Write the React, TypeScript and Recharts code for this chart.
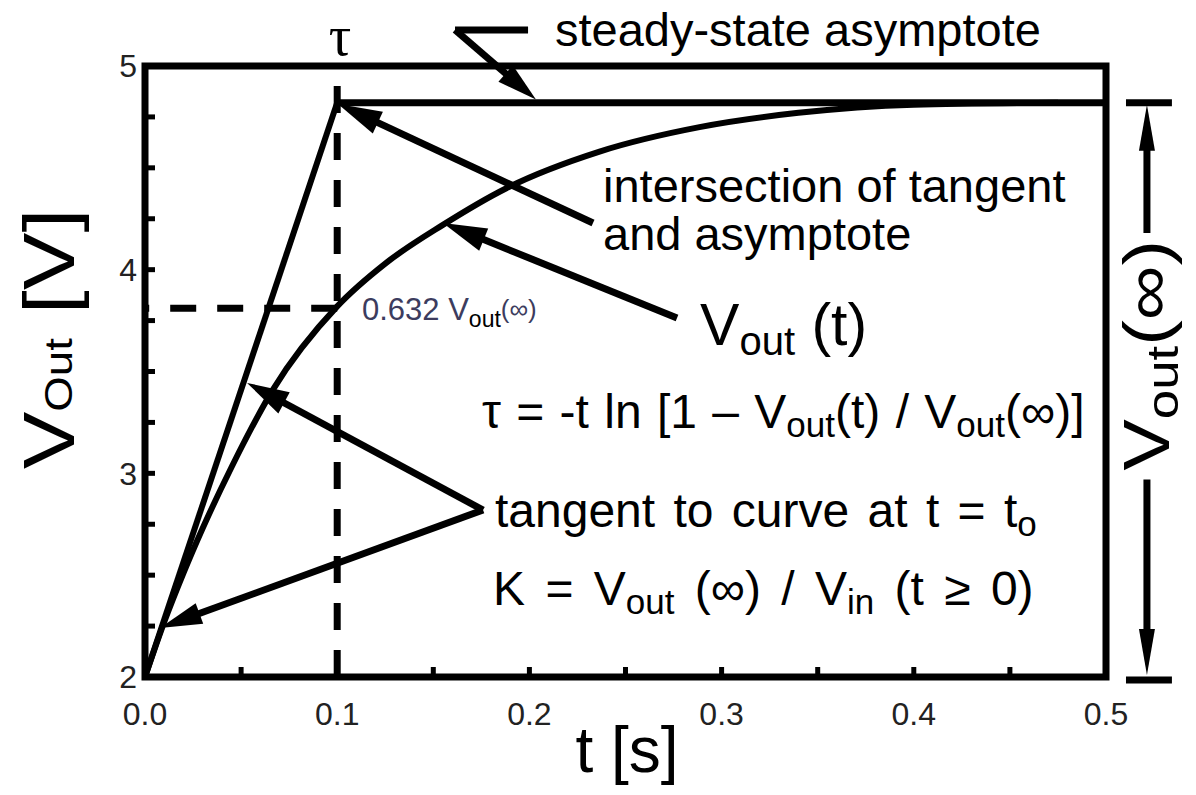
import React from 'react';
import {
  LineChart,
  Line,
  XAxis,
  YAxis,
  ReferenceArea,
  ReferenceLine,
  ReferenceDot,
} from 'recharts';

const SANS = '"Liberation Sans", Arial, Helvetica, sans-serif';
const SERIF = '"Liberation Serif", "DejaVu Serif", serif';
const INK = '#000';

// step response V_out(t)
const curveT = [0, 0.01, 0.02, 0.03, 0.045, 0.0665, 0.1, 0.125, 0.155, 0.188, 0.2365, 0.2885, 0.34, 0.4, 0.475];
const curveV = [2.0, 2.27, 2.51, 2.73, 3.03, 3.41, 3.82, 4.03, 4.22, 4.4, 4.58, 4.7, 4.77, 4.81, 4.82];

// tangent at t = 0 and the steady-state asymptote
const tangentT = [0, 0.1];
const tangentV = [2.0, 4.82];
const asymptoteT = [0.1, 0.5];
const asymptoteV = [4.82, 4.82];

// time constant and the 63.2 % level
const tauT = 0.1;
const level632 = 3.81;

const xTicks = [0, 0.05, 0.1, 0.15, 0.2, 0.25, 0.3, 0.35, 0.4, 0.45, 0.5];
const yTicks = [2, 2.25, 2.5, 2.75, 3, 3.25, 3.5, 3.75, 4, 4.25, 4.5, 4.75, 5];

const rows = (ts: number[], vs: number[]) => ts.map((t, i) => ({ t, v: vs[i] }));
const curveData = rows(curveT, curveV);
const tangentData = rows(tangentT, tangentV);
const asymptoteData = rows(asymptoteT, asymptoteV);

type Pt = [number, number];

// pointer arrows, [t, V] from tail to head
const arrows: { from: Pt; to: Pt; len: number; half: number }[] = [
  { from: [0.1613, 5.177], to: [0.2034, 4.835], len: 40, half: 11 },
  { from: [0.2331, 4.229], to: [0.1004, 4.813], len: 44, half: 12 },
  { from: [0.2768, 3.763], to: [0.155, 4.229], len: 44, half: 12 },
  { from: [0.1759, 2.82], to: [0.0531, 3.444], len: 42, half: 12 },
  { from: [0.1759, 2.82], to: [0.0078, 2.241], len: 42, half: 11 },
  { from: [0.5213, 4.18], to: [0.5213, 4.81], len: 46, half: 8 },
  { from: [0.5213, 2.97], to: [0.5213, 2.01], len: 46, half: 8 },
];

// plain bars: top of the steady-state pointer and the V_out(inf) bracket ends
const bars: { from: Pt; to: Pt }[] = [
  { from: [0.1993, 5.177], to: [0.1613, 5.177] },
  { from: [0.5104, 4.82], to: [0.5343, 4.82] },
  { from: [0.5104, 1.985], to: [0.5343, 1.985] },
];

const arrowShape = (len: number, half: number) => (p: any) => {
  const { x1, y1, x2, y2 } = p;
  if (![x1, y1, x2, y2].every((n) => Number.isFinite(n))) return <g />;
  const d = Math.hypot(x2 - x1, y2 - y1) || 1;
  const ux = (x2 - x1) / d;
  const uy = (y2 - y1) / d;
  const bx = x2 - ux * len;
  const by = y2 - uy * len;
  const head = `${x2},${y2} ${bx - uy * half},${by + ux * half} ${bx + uy * half},${by - ux * half}`;
  return (
    <g>
      <line x1={x1} y1={y1} x2={bx + ux * 6} y2={by + uy * 6} stroke={INK} strokeWidth={7} />
      <polygon points={head} fill={INK} />
    </g>
  );
};

const barShape = (p: any) => (
  <line x1={p.x1} y1={p.y1} x2={p.x2} y2={p.y2} stroke={INK} strokeWidth={7} />
);

const sub = (s: string, size: number, drop: number) => (
  <tspan fontSize={size} dy={drop}>
    {s}
  </tspan>
);

// vertical labels are drawn a little stretched along their length
const rotated = (x: number, y: number) => `translate(${x} ${y}) rotate(-90) scale(1.2 1)`;

// text annotations anchored in data units
const notes: { t: number; v: number; draw: (x: number, y: number) => React.ReactElement }[] = [
  {
    t: 0.2133,
    v: 5.098,
    draw: (x, y) => (
      <text x={x} y={y} fontSize={47} fontFamily={SANS} fill={INK}>
        steady-state asymptote
      </text>
    ),
  },
  {
    t: 0.1015,
    v: 5.054,
    draw: (x, y) => (
      <text x={x} y={y} fontSize={56} fontFamily={SERIF} fill={INK} textAnchor="middle">
        τ
      </text>
    ),
  },
  {
    t: 0.2383,
    v: 4.332,
    draw: (x, y) => (
      <text x={x} y={y} fontSize={47} fontFamily={SANS} fill={INK}>
        <tspan x={x}>intersection of tangent</tspan>
        <tspan x={x} dy={48}>
          and asymptote
        </tspan>
      </text>
    ),
  },
  {
    t: 0.2888,
    v: 3.63,
    draw: (x, y) => (
      <text x={x} y={y} fontSize={59} fontFamily={SANS} fill={INK}>
        V{sub('out', 40, 10)}
        <tspan dy={-10}> (t)</tspan>
      </text>
    ),
  },
  {
    t: 0.1753,
    v: 3.223,
    draw: (x, y) => (
      <text x={x} y={y} fontSize={48} fontFamily={SANS} fill={INK} wordSpacing={2}>
        τ = -t ln [1 – V{sub('out', 35, 9)}
        <tspan dy={-9}>(t) / V</tspan>
        {sub('out', 35, 9)}
        <tspan dy={-9}>(∞)]</tspan>
      </text>
    ),
  },
  {
    t: 0.1821,
    v: 2.737,
    draw: (x, y) => (
      <text x={x} y={y} fontSize={48} fontFamily={SANS} fill={INK} wordSpacing={5}>
        tangent to curve at t = t{sub('o', 35, 9)}
      </text>
    ),
  },
  {
    t: 0.1811,
    v: 2.354,
    draw: (x, y) => (
      <text x={x} y={y} fontSize={48} fontFamily={SANS} fill={INK} wordSpacing={7}>
        K = V{sub('out', 35, 9)}
        <tspan dy={-9}> (∞) / V</tspan>
        {sub('in', 35, 9)}
        <tspan dy={-9}> (t ≥ 0)</tspan>
      </text>
    ),
  },
  {
    t: 0.1129,
    v: 3.753,
    draw: (x, y) => (
      <text x={x} y={y} fontSize={31} fontFamily={SANS} fill="#3c3c5e">
        0.632 V
        <tspan fontSize={23} dy={7} fill={INK}>
          out
        </tspan>
        <tspan fontSize={26} dy={-9}>
          (∞)
        </tspan>
      </text>
    ),
  },
  {
    t: 0.5328,
    v: 3.58,
    draw: (x, y) => (
      <text transform={rotated(x, y)} fontSize={64} fontFamily={SANS} fill={INK} textAnchor="middle">
        V{sub('out', 44, 9)}
        <tspan dy={-9}>(∞)</tspan>
      </text>
    ),
  },
  {
    t: -0.037,
    v: 3.66,
    draw: (x, y) => (
      <text transform={rotated(x, y)} fontSize={72} fontFamily={SANS} fill={INK} textAnchor="middle">
        V{sub('Out', 38, -2)}
        <tspan dy={2}> [V]</tspan>
      </text>
    ),
  },
  {
    t: 0.2508,
    v: 1.535,
    draw: (x, y) => (
      <text x={x} y={y} fontSize={64} fontFamily={SANS} fill={INK} textAnchor="middle">
        t [s]
      </text>
    ),
  },
];

const isMultiple = (v: number, step: number) => Math.abs(v / step - Math.round(v / step)) < 1e-6;
const tickText = { fill: '#222', fontSize: 32, fontFamily: SANS };

export default function App() {
  return (
    <div style={{ position: 'absolute', left: 0, top: 0 }}>
      <LineChart width={1196} height={795} margin={{ top: 65, right: 89, bottom: 58, left: 85 }}>
        <XAxis
          type="number"
          dataKey="t"
          domain={[0, 0.5]}
          ticks={xTicks}
          interval={0}
          height={60}
          axisLine={false}
          tickSize={-10}
          tickMargin={35}
          tickLine={{ stroke: INK, strokeWidth: 5 }}
          tick={tickText}
          tickFormatter={(v: number) => (isMultiple(v, 0.1) ? v.toFixed(1) : '')}
        />
        <XAxis
          xAxisId="top"
          orientation="top"
          type="number"
          dataKey="t"
          domain={[0, 0.5]}
          ticks={xTicks}
          interval={0}
          height={1}
          axisLine={false}
          tickSize={-9}
          tickLine={{ stroke: INK, strokeWidth: 5 }}
          tick={false}
        />
        <YAxis
          type="number"
          dataKey="v"
          domain={[2, 5]}
          ticks={yTicks}
          interval={0}
          width={60}
          axisLine={false}
          tickSize={-10}
          tickMargin={18}
          tickLine={{ stroke: INK, strokeWidth: 5 }}
          tick={tickText}
          tickFormatter={(v: number) => (isMultiple(v, 1) ? String(v) : '')}
        />
        <YAxis
          yAxisId="right"
          orientation="right"
          type="number"
          domain={[2, 5]}
          ticks={yTicks}
          interval={0}
          width={1}
          axisLine={false}
          tickSize={-10}
          tickLine={{ stroke: INK, strokeWidth: 5 }}
          tick={false}
        />

        <ReferenceLine x={tauT} stroke={INK} strokeWidth={7} strokeDasharray="27 20" />
        <ReferenceLine
          segment={[
            { x: tauT, y: level632 },
            { x: 0, y: level632 },
          ]}
          stroke={INK}
          strokeWidth={7}
          strokeDasharray="26 21"
        />

        <Line
          data={tangentData}
          dataKey="v"
          type="linear"
          stroke={INK}
          strokeWidth={6}
          dot={false}
          isAnimationActive={false}
        />
        <Line
          data={asymptoteData}
          dataKey="v"
          type="linear"
          stroke={INK}
          strokeWidth={7}
          dot={false}
          isAnimationActive={false}
        />
        <Line
          data={curveData}
          dataKey="v"
          type="monotone"
          stroke={INK}
          strokeWidth={6}
          dot={false}
          isAnimationActive={false}
        />

        <ReferenceArea
          x1={0}
          x2={0.5}
          y1={2}
          y2={5}
          fill="none"
          stroke={INK}
          strokeWidth={7}
          ifOverflow="visible"
        />

        {arrows.map((a, i) => (
          <ReferenceLine
            key={`a${i}`}
            segment={[
              { x: a.from[0], y: a.from[1] },
              { x: a.to[0], y: a.to[1] },
            ]}
            ifOverflow="visible"
            shape={arrowShape(a.len, a.half)}
          />
        ))}
        {bars.map((b, i) => (
          <ReferenceLine
            key={`b${i}`}
            segment={[
              { x: b.from[0], y: b.from[1] },
              { x: b.to[0], y: b.to[1] },
            ]}
            ifOverflow="visible"
            shape={barShape}
          />
        ))}
        {notes.map((n, i) => (
          <ReferenceDot
            key={`n${i}`}
            x={n.t}
            y={n.v}
            ifOverflow="visible"
            shape={(p: any) => n.draw(p.cx, p.cy)}
          />
        ))}
      </LineChart>
    </div>
  );
}
